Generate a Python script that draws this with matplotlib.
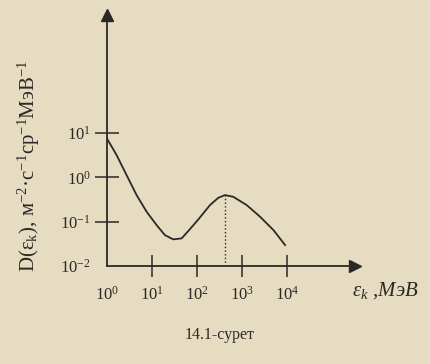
import numpy as np
import matplotlib
matplotlib.use("Agg")
import matplotlib.pyplot as plt

# paper look of the scanned textbook figure
plt.rcParams['font.family'] = ['Liberation Serif', 'DejaVu Serif']
plt.rcParams['mathtext.fontset'] = 'custom'
plt.rcParams['mathtext.rm'] = 'Liberation Serif'
plt.rcParams['mathtext.it'] = 'Liberation Serif:italic'

# spectrum D(eps_k)
energy = [1.0, 1.64, 2.74, 4.57, 7.63, 12.7, 19.4, 29.7, 45.7, 69.9, 107, 194, 297, 419,
          641, 1270, 2510, 4970, 9030]
flux = [7.64, 3.21, 1.13, 0.40, 0.168, 0.0843, 0.050, 0.0401, 0.0422, 0.0684, 0.113, 0.238,
        0.348, 0.401, 0.366, 0.238, 0.130, 0.065, 0.0298]
peak_energy = 419
peak_flux = 0.401

x_ticks = [1e0, 1e1, 1e2, 1e3, 1e4]
x_labels = ['$10^{0}$', '$10^{1}$', '$10^{2}$', '$10^{3}$', '$10^{4}$']
y_ticks = [1e-2, 1e-1, 1e0, 1e1]
y_labels = ['$10^{-2}$', '$10^{-1}$', '$10^{0}$', '$10^{1}$']

paper = '#e6dcc2'
ink = '#2b2926'

fig = plt.figure(figsize=(4.31, 3.64), dpi=100, facecolor=paper)
ax = fig.add_axes([0.248, 0.269, 0.576, 0.69], facecolor=paper)

ax.plot(energy, flux, color=ink, lw=1.3, solid_joinstyle='round')
ax.plot([peak_energy, peak_energy], [1e-2, peak_flux], color=ink, lw=1.0, ls=':')

ax.set_xscale('log')
ax.set_yscale('log')
ax.set_xlim(1, 10 ** 5.51)
ax.set_ylim(1e-2, 10 ** 3.67)

for side in ['top', 'right']:
    ax.spines[side].set_visible(False)
for side in ['left', 'bottom']:
    ax.spines[side].set_color(ink)
    ax.spines[side].set_linewidth(1.3)

# arrow heads at the ends of the axes
ax.plot(1, 0, '>', color=ink, ms=9, transform=ax.transAxes, clip_on=False)
ax.plot(0, 1, '^', color=ink, ms=9, transform=ax.transAxes, clip_on=False)

ax.minorticks_off()
ax.set_xticks(x_ticks, x_labels)
ax.set_yticks(y_ticks, y_labels)
ax.tick_params(axis='x', direction='inout', length=16, width=1.1, color=ink,
               labelsize=12, pad=6, labelcolor=ink)
ax.tick_params(axis='y', direction='inout', length=17, width=1.1, color=ink,
               labelsize=12, pad=3, labelcolor=ink)
ax.yaxis.get_major_ticks()[0].tick1line.set_visible(False)
ax.xaxis.get_major_ticks()[0].tick1line.set_visible(False)

ax.set_ylabel('D(ε$_{\\mathrm{k}}$), м$^{-2}$·с$^{-1}$ср$^{-1}$МэВ$^{-1}$',
              fontsize=15, color=ink, labelpad=2)
ax.yaxis.set_label_coords(-0.26, 0.40)

fig.text(0.893, 0.203, r'$\varepsilon_k$ ,$\it{МэВ}$', fontsize=15, color=ink,
         ha='center', va='center', style='italic')
fig.text(0.51, 0.08, '14.1-сурет', fontsize=11.5, color=ink, ha='center', va='center')

fig.savefig('out.png', dpi=100, facecolor=paper)
